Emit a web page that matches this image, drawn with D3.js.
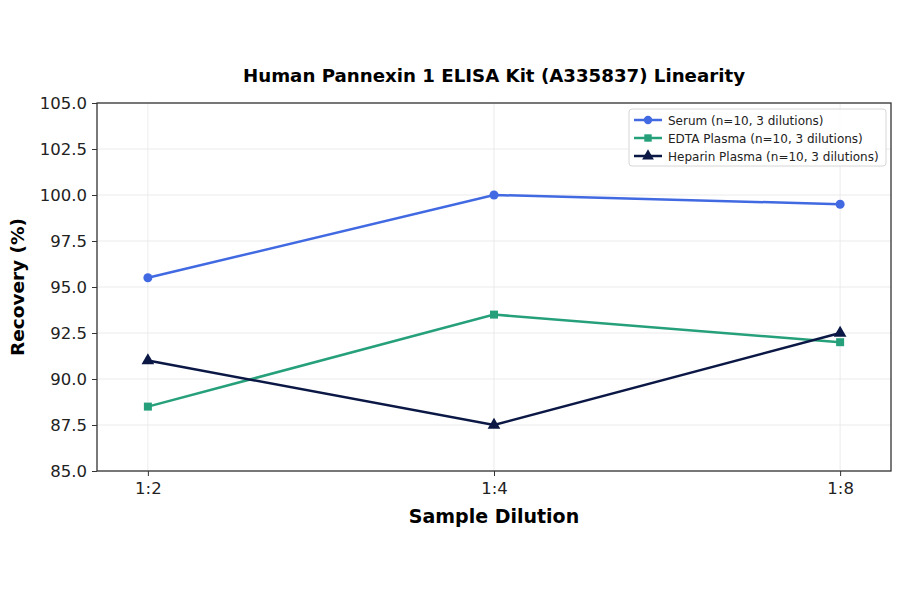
<!DOCTYPE html>
<html>
<head>
<meta charset="utf-8">
<script src="https://cdn.jsdelivr.net/npm/d3@7"></script>
<style>
  body { margin: 0; background: #fff; }
  svg, svg text { font-family: "DejaVu Sans", sans-serif; }
</style>
</head>
<body>
<div id="chart"></div>
<script>
// chart data
const categories = ["1:2", "1:4", "1:8"];
const serum = [95.5, 100.0, 99.5];
const edta = [88.5, 93.5, 92.0];
const heparin = [91.0, 87.5, 92.5];
const yTicks = [85.0, 87.5, 90.0, 92.5, 95.0, 97.5, 100.0, 102.5, 105.0];
const seriesNames = ["Serum (n=10, 3 dilutions)", "EDTA Plasma (n=10, 3 dilutions)", "Heparin Plasma (n=10, 3 dilutions)"];

const W = 900, H = 594;
const margin = {top: 103, right: 9, bottom: 123, left: 97};
const width = W - margin.left - margin.right,
      height = H - margin.top - margin.bottom;

const series = [
  {name: seriesNames[0], values: serum, color: "#4169e1", shape: d3.symbolCircle},
  {name: seriesNames[1], values: edta, color: "#26a07a", shape: d3.symbolSquare},
  {name: seriesNames[2], values: heparin, color: "#0b1845", shape: d3.symbolTriangle}
];

const svg = d3.select("#chart").append("svg")
    .attr("width", W).attr("height", H);

const g = svg.append("g")
    .attr("transform", `translate(${margin.left},${margin.top})`);

let x = d3.scaleLinear()
    .domain([-0.147, categories.length - 1 + 0.147])
    .range([0, width]);

let y = d3.scaleLinear()
    .domain([85, 105])
    .range([height, 0]);

// grid
g.append("g").selectAll("line.h")
    .data(yTicks).enter().append("line")
    .attr("x1", 0).attr("x2", width)
    .attr("y1", d => y(d)).attr("y2", d => y(d))
    .attr("stroke", "#e6e6e6").attr("stroke-width", 0.8);
g.append("g").selectAll("line.v")
    .data(categories).enter().append("line")
    .attr("x1", (d, i) => x(i)).attr("x2", (d, i) => x(i))
    .attr("y1", 0).attr("y2", height)
    .attr("stroke", "#e6e6e6").attr("stroke-width", 0.8);

// axes
let xAxis = d3.axisBottom(x)
    .tickValues(d3.range(categories.length))
    .tickFormat(i => categories[i])
    .tickSize(5).tickPadding(6);
let yAxis = d3.axisLeft(y)
    .tickValues(yTicks)
    .tickFormat(d3.format(".1f"))
    .tickSize(5).tickPadding(5);

const gx = g.append("g")
    .attr("transform", `translate(0,${height})`)
    .call(xAxis);
const gy = g.append("g").call(yAxis);
[gx, gy].forEach(a => {
  a.attr("font-family", null).attr("font-size", null);
  a.select(".domain").remove();
  a.selectAll("line").attr("stroke", "#333").attr("stroke-width", 1);
  a.selectAll("text").attr("fill", "#222")
    .style("font-family", "'DejaVu Sans', sans-serif")
    .style("font-size", "16.5px");
});

// frame
g.append("rect")
    .attr("width", width).attr("height", height)
    .attr("fill", "none").attr("stroke", "#333").attr("stroke-width", 1.3);

// lines + markers
const line = d3.line()
    .x((d, i) => x(i))
    .y(d => y(d));

series.forEach(s => {
  g.append("path")
    .datum(s.values)
    .attr("fill", "none")
    .attr("stroke", s.color)
    .attr("stroke-width", 2.5)
    .attr("d", line);
  g.selectAll(null)
    .data(s.values).enter().append("path")
    .attr("transform", (d, i) => `translate(${x(i)},${y(d)})`)
    .attr("d", d3.symbol().type(s.shape).size(s.shape === d3.symbolTriangle ? 70 : 64))
    .attr("fill", s.color);
});

// title and labels
svg.append("text")
    .attr("x", margin.left + width / 2).attr("y", 82)
    .attr("text-anchor", "middle")
    .style("font-size", "18.2px").style("font-weight", "bold")
    .text("Human Pannexin 1 ELISA Kit (A335837) Linearity");

svg.append("text")
    .attr("x", margin.left + width / 2).attr("y", 523)
    .attr("text-anchor", "middle")
    .style("font-size", "19px").style("font-weight", "bold")
    .text("Sample Dilution");

svg.append("text")
    .attr("transform", `translate(24,${margin.top + height / 2}) rotate(-90)`)
    .attr("text-anchor", "middle")
    .style("font-size", "18.5px").style("font-weight", "bold")
    .text("Recovery (%)");

// legend
const lg = svg.append("g").attr("transform", "translate(629,109)");
lg.append("rect")
    .attr("width", 257).attr("height", 57).attr("rx", 3)
    .attr("fill", "#fff").attr("fill-opacity", 0.85)
    .attr("stroke", "#d6d6d6");
series.forEach((s, i) => {
  const yy = 11 + i * 18;
  lg.append("line")
    .attr("x1", 5).attr("x2", 33).attr("y1", yy).attr("y2", yy)
    .attr("stroke", s.color).attr("stroke-width", 2.5);
  lg.append("path")
    .attr("transform", `translate(19,${yy})`)
    .attr("d", d3.symbol().type(s.shape).size(s.shape === d3.symbolTriangle ? 60 : 55))
    .attr("fill", s.color);
  lg.append("text")
    .attr("x", 39).attr("y", yy + 4.5)
    .style("font-size", "12px").attr("fill", "#222")
    .text(s.name);
});
</script>
</body>
</html>
